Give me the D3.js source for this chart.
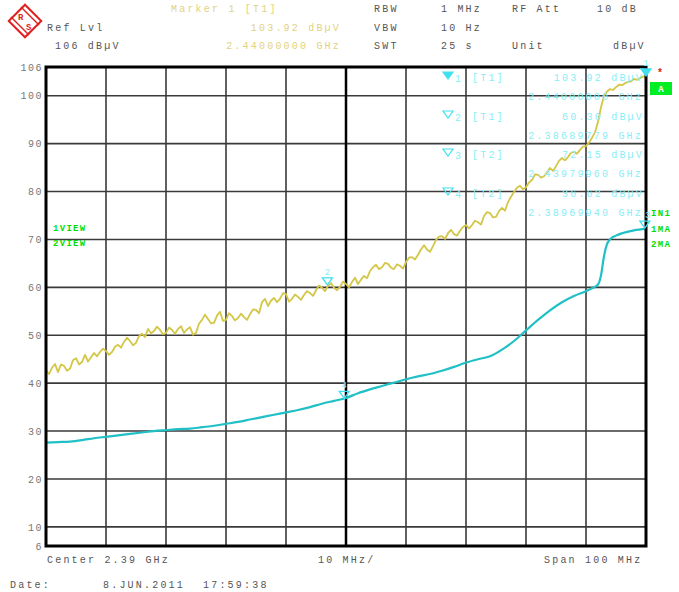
<!DOCTYPE html>
<html><head><meta charset="utf-8">
<script src="https://cdn.jsdelivr.net/npm/d3@7"></script>
<style>
body{margin:0;background:#fff;}
svg{display:block;}
text{font-family:"Liberation Mono","DejaVu Sans Mono",monospace;font-size:10px;letter-spacing:2.2px;}
</style></head>
<body>
<svg id="c" width="679" height="592"></svg>
<script>
// ---------------- DATA ----------------
const startMHz = 2340, stopMHz = 2440;
// Trace 1 (max hold), 0.5 MHz steps from 2340 to 2440 MHz, dBµV
const trace1 = [
  42.7,41.9,43.2,44.0,42.3,43.9,43.6,42.6,43.0,44.8,
  45.2,43.9,44.4,45.9,44.5,45.4,46.3,45.6,46.5,47.2,
  46.7,45.9,46.5,47.6,48.0,47.4,48.6,49.5,48.8,47.9,
  48.4,49.8,50.3,49.6,51.3,50.4,50.9,51.8,51.1,50.2,
  50.5,51.6,51.1,50.3,51.3,51.9,50.5,51.2,51.7,50.1,
  50.5,52.4,53.2,54.3,53.4,52.5,52.6,54.1,54.9,53.0,
  53.2,54.6,54.0,53.1,53.6,54.5,53.8,53.2,54.4,55.4,
  55.3,54.6,56.9,57.6,56.1,57.2,57.8,56.9,57.6,58.8,
  58.6,57.0,57.6,58.5,58.0,57.4,58.4,59.2,58.8,58.2,
  59.4,60.4,59.9,59.2,60.3,60.9,59.9,59.4,60.1,61.2,
  60.7,60.0,61.1,62.0,60.7,61.6,62.4,61.9,63.4,64.2,
  64.7,63.8,64.2,65.1,64.9,64.1,63.8,64.8,64.5,63.9,
  65.3,66.2,66.3,65.8,66.8,67.9,68.8,67.9,67.4,68.6,
  69.9,70.6,70.7,70.1,71.3,72.0,71.1,70.8,71.8,72.6,
  73.0,72.3,73.0,73.9,73.6,73.1,74.9,75.7,75.5,74.6,
  74.7,75.9,76.6,76.0,77.8,78.9,79.9,80.8,81.2,80.5,
  80.9,81.9,82.4,83.6,83.5,82.9,83.2,84.0,84.9,84.3,
  85.3,86.4,87.0,86.5,87.2,88.1,88.3,87.9,88.7,89.4,
  89.5,90.2,91.2,92.4,94.5,97.6,100.0,100.9,101.4,101.2,
  101.8,102.3,102.2,102.6,102.9,103.0,103.5,103.3,103.7,104.0,
  103.92];
// Trace 2 (average), frequencies in MHz and levels in dBµV
const trace2Freq = [2340,2342,2344,2346,2348,2350,2352,2354,2356,2358,2360,2362,2364,2366,2368,2370,
  2372,2374,2376,2378,2380,2382,2384,2386,2388,2390,2392,2394,2396,2398,2400,2402,2404,2406,2408,
  2410,2412,2414,2416,2418,2420,2422,2424,2426,2428,2430,2431,2432,2432.5,2433,2433.5,2434,2435,
  2436,2438,2440];
const trace2 = [27.6,27.7,27.8,28.1,28.5,28.8,29.1,29.4,29.7,30.0,30.2,30.4,30.5,30.8,31.1,31.5,
  31.9,32.4,32.9,33.4,33.9,34.4,35.0,35.7,36.3,36.9,37.9,38.7,39.4,40.1,40.8,41.4,41.9,42.6,43.4,
  44.3,45.0,45.6,47.0,48.8,51.0,53.2,55.2,56.9,58.2,59.2,59.8,60.6,62.5,66.5,69.0,70.0,70.8,
  71.3,71.9,72.2];
// Markers
const markerIds = [1,2,3,4];
const markerTrace = ["T1","T1","T2","T2"];
const markerFreqGHz = ["2.44000000","2.38689779","2.43979960","2.38969940"];
const markerLevel = ["103.92","60.30","72.15","36.62"];
const markerFreqMHz = [2440, 2386.89779, 2439.7996, 2389.6994];
const markerVal = [103.92, 60.30, 72.15, 36.62];
// Axis
const yTicks = [106,100,90,80,70,60,50,40,30,20,10,6];
const yGrid = [100,90,80,70,60,50,40,30,20,10];
const xGrid = [2350,2360,2370,2380,2400,2410,2420,2430];

// ---------------- DRAW ----------------
const svg = d3.select("#c");
const L=46,R=646,T=67,B=546;
const x = d3.scaleLinear().domain([startMHz, stopMHz]).range([L,R]);
const y = d3.scaleLinear().domain([6,106]).range([B,T]);

const gray="#555", yel="#d4c646", cyan="#20c0c6", ltc="#88eef6", grn="#00e000";

function txt(xp,yp,s,col,anchor,extra){
  const t=svg.append("text").attr("x",xp).attr("y",yp).attr("fill",col).text(s);
  if(anchor) t.attr("text-anchor",anchor);
  if(extra) extra(t);
  return t;
}

// Logo
const logo = svg.append("g").attr("transform","translate(25,21)");
logo.append("rect").attr("x",-11.5).attr("y",-11.5).attr("width",23).attr("height",23)
  .attr("transform","rotate(45)").attr("fill","none").attr("stroke","#e02020").attr("stroke-width",2);
logo.append("line").attr("x1",-14).attr("y1",-4).attr("x2",4).attr("y2",14).attr("stroke","#e02020").attr("stroke-width",1.5);
logo.append("line").attr("x1",-4).attr("y1",-14).attr("x2",14).attr("y2",4).attr("stroke","#e02020").attr("stroke-width",1.5);
logo.append("text").attr("x",-7).attr("y",-1).attr("fill","#e02020").style("font-size","9px").style("letter-spacing","0").style("font-weight","bold").text("R");
logo.append("text").attr("x",1).attr("y",9).attr("fill","#e02020").style("font-size","9px").style("letter-spacing","0").style("font-weight","bold").text("S");

// Header
txt(171,12,"Marker 1 [T1]","#e2d27e");
txt(341,31,"103.92 dBµV","#e2d27e","end");
txt(341,49,"2.44000000 GHz","#e2d27e","end");
txt(47,31,"Ref Lvl",gray);
txt(55,49,"106 dBµV",gray);
txt(374,12,"RBW",gray); txt(441,12,"1 MHz",gray); txt(512,12,"RF Att",gray); txt(597,12,"10 dB",gray);
txt(374,31,"VBW",gray); txt(441,31,"10 Hz",gray);
txt(374,49,"SWT",gray); txt(441,49,"25 s",gray); txt(512,49,"Unit",gray); txt(613,49,"dBµV",gray);

// Grid
svg.append("g").selectAll("line").data(yGrid).join("line")
  .attr("x1",L).attr("x2",R).attr("y1",d=>y(d)).attr("y2",d=>y(d))
  .attr("stroke","#3a3a3a").attr("stroke-width",1.6);
svg.append("g").selectAll("line").data(xGrid).join("line")
  .attr("y1",T).attr("y2",B).attr("x1",d=>x(d)).attr("x2",d=>x(d))
  .attr("stroke","#3a3a3a").attr("stroke-width",1.6);
svg.append("line").attr("x1",x(2390)).attr("x2",x(2390)).attr("y1",T).attr("y2",B)
  .attr("stroke","#000").attr("stroke-width",2.5);

// Y axis labels via d3 axis
const yAxis = svg.append("g").attr("transform",`translate(${L},0)`)
  .call(d3.axisLeft(y).tickValues(yTicks).tickSize(0).tickPadding(3).tickFormat(d3.format("d")));
yAxis.select(".domain").remove();
yAxis.selectAll("text").attr("fill","#777").style("font-size","10px").style("font-family","'Liberation Mono',monospace").style("letter-spacing","1.5px");

// Traces
const line1 = d3.line().x((d,i)=>x(startMHz+i*0.5)).y(d=>y(d));
svg.append("path").datum(trace1).attr("d",line1).attr("fill","none").attr("stroke",yel).attr("stroke-width",1.8).attr("stroke-linejoin","round");
const line2 = d3.line().x((d,i)=>x(trace2Freq[i])).y(d=>y(d)).curve(d3.curveMonotoneX);
svg.append("path").datum(trace2).attr("d",line2).attr("fill","none").attr("stroke",cyan).attr("stroke-width",2.2);

// Frame
svg.append("rect").attr("x",L).attr("y",T).attr("width",R-L).attr("height",B-T)
  .attr("fill","none").attr("stroke","#000").attr("stroke-width",3);

// Marker symbols on traces
markerIds.forEach((id,i)=>{
  const mx=x(markerFreqMHz[i]), my=y(markerVal[i]);
  svg.append("path").attr("d",`M${mx-5},${my-8}L${mx+5},${my-8}L${mx},${my-1}Z`)
    .attr("fill", id===1? "#40e0f0":"none").attr("stroke","#40e0f0").attr("stroke-width",1.3);
  const lx = id===3 ? mx+3 : mx;
  txt(lx,my-11,String(id),ltc,"middle",t=>t.style("letter-spacing","0").style("font-size","9px"));
});

// Marker info table
const rows=[78,117,155,194];
markerIds.forEach((id,i)=>{
  const ry=rows[i];
  svg.append("path").attr("d",`M443,${ry-6}L453,${ry-6}L448,${ry+1}Z`)
    .attr("fill", id===1? "#40e0f0":"none").attr("stroke","#40e0f0").attr("stroke-width",1.2);
  txt(455,ry+4,String(id),ltc);
  txt(472,ry+3,`[${markerTrace[i]}]`,ltc);
  txt(644,ry+3,markerLevel[i]+" dBµV",ltc,"end");
  txt(643,ry+22,markerFreqGHz[i]+" GHz",ltc,"end");
});

// Side labels
const bold=t=>t.style("font-weight","bold").style("font-size","9px").style("letter-spacing","1.3px");
txt(53,231,"1VIEW",grn,null,bold);
txt(53,246,"2VIEW",grn,null,bold);
txt(651,216,"IN1",grn,null,bold);
txt(651,232,"1MA",grn,null,bold);
txt(651,247,"2MA",grn,null,bold);
svg.append("rect").attr("x",650).attr("y",82).attr("width",22).attr("height",13).attr("fill","#00ee22");
txt(661,92,"A","#fff","middle",t=>t.style("font-size","9px").style("letter-spacing","0").style("font-weight","bold"));
txt(660,76,"*","#e02020","middle",t=>t.style("letter-spacing","0").style("font-size","10px").style("font-weight","bold"));

// Bottom
txt(47,563,"Center 2.39 GHz",gray);
txt(318,563,"10 MHz/",gray);
txt(544,563,"Span 100 MHz",gray);
txt(10,588,"Date:",gray);
txt(103,588,"8.JUN.2011",gray);
txt(203,588,"17:59:38",gray);
</script>
</body></html>
